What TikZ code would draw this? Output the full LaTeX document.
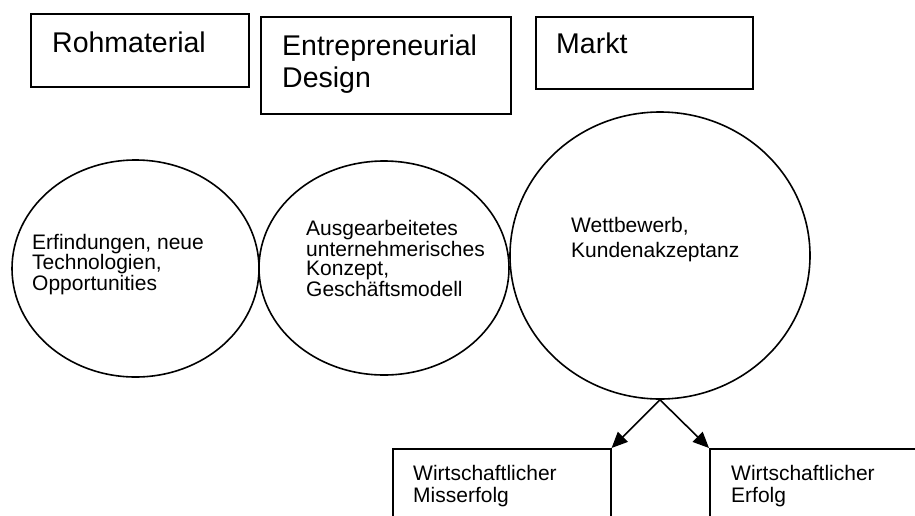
\documentclass[tikz,border=0pt]{standalone}
\usepackage{fontspec}
\setmainfont{Liberation Sans}
\usetikzlibrary{shapes.geometric,arrows.meta}

\tikzset{
  boxnode/.style={draw, line width=1.6pt, anchor=north west, inner sep=0pt},
  oval/.style={draw, ellipse, line width=1.6pt, inner sep=0pt},
  bigtext/.style={anchor=base west, inner sep=0pt, align=left,
    font=\fontsize{28.5}{32}\selectfont},
  smalltext/.style={anchor=base west, inner sep=0pt, align=left,
    font=\fontsize{21}{19.5}\selectfont},
  pfeil/.style={line width=1.6pt, -{Triangle[length=16pt,width=14pt]}}
}

\begin{document}
\begin{tikzpicture}[x=1pt,y=-1pt]
	\useasboundingbox (0,0) rectangle (915,515);
	\clip (0,0) rectangle (915,515);

	% obere Kaesten (base = letzte Zeile)
	\node[boxnode, minimum width=218pt, minimum height=73pt] (rohbox) at (30,13) {};
	\node[boxnode, minimum width=250pt, minimum height=97pt] (designbox) at (260,16) {};
	\node[boxnode, minimum width=217pt, minimum height=72pt] (marktbox) at (535,16) {};
	\node[bigtext] (rohtext) at (52,52) {Rohmaterial};
	\node[bigtext] (designtext) at (282,87) {Entrepreneurial\\Design};
	\node[bigtext] (markttext) at (556,53) {Markt};

	% Ellipsen
	\node[oval, minimum width=247pt, minimum height=217pt] (rohkreis) at (135.5,268.5) {};
	\node[oval, minimum width=250pt, minimum height=214pt] (designkreis) at (384,268) {};
	\node[oval, minimum width=300pt, minimum height=287pt] (marktkreis) at (660,255.5) {};
	\node[smalltext] (erfindungen) at (32,290.5) {Erfindungen, neue\\Technologien,\\Opportunities};
	\node[smalltext] (konzept) at (306,296.5) {Ausgearbeitetes\\unternehmerisches\\Konzept,\\Gesch\"aftsmodell};
	\node[smalltext, font=\fontsize{21}{25}\selectfont] (wettbewerb) at (571,257) {Wettbewerb,\\Kundenakzeptanz};

	% untere Kaesten
	\node[boxnode, minimum width=218pt, minimum height=100pt] (missbox) at (392,448) {};
	\node[boxnode, minimum width=250pt, minimum height=100pt] (erfolgbox) at (709,448) {};
	\node[smalltext, font=\fontsize{21}{22.5}\selectfont] (misstext) at (413,502.5) {Wirtschaftlicher\\Misserfolg};
	\node[smalltext, font=\fontsize{21}{22.5}\selectfont] (erfolgtext) at (731,502.5) {Wirtschaftlicher\\Erfolg};

	\draw[pfeil] (marktkreis.south) -- (missbox.north east);
	\draw[pfeil] (marktkreis.south) -- (erfolgbox.north west);
\end{tikzpicture}
\end{document}
